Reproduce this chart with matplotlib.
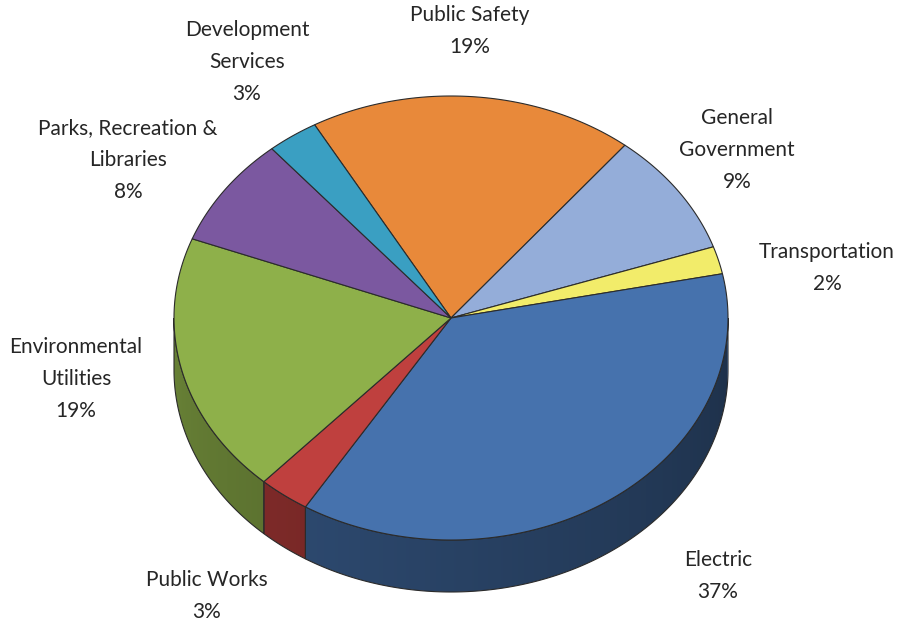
import numpy as np
import matplotlib
matplotlib.use("Agg")
import matplotlib.pyplot as plt
from matplotlib.patches import Polygon
from matplotlib.colors import to_rgb

categories = ["Public Safety", "General\nGovernment", "Transportation", "Electric",
              "Public Works", "Environmental\nUtilities", "Parks, Recreation &\nLibraries",
              "Development\nServices"]
shares = [19, 9, 2, 37, 3, 19, 8, 3]
colors = ["#E8893A", "#94ADD9", "#F2EC6A", "#4672AD", "#BF403E", "#8EB04A", "#7B58A0", "#3A9FC2"]

# label anchor (pixel) for each category, centre of the text block
label_pos = [(470, 31), (737, 150), (827, 268), (718, 576), (207, 596), (76, 379), (128, 160), (247, 62)]

W, H = 900, 623
fig = plt.figure(figsize=(9, 6.23), dpi=100)
ax = fig.add_axes([0, 0, 1, 1])
ax.set_xlim(0, W)
ax.set_ylim(H, 0)
ax.axis("off")

cx, cy, rx, ry, depth = 451, 318, 277, 222, 52
start = 119.5
edge = "#2b2b2b"


def pt(t_deg, dy=0.0):
    t = np.radians(t_deg)
    return cx + rx * np.cos(t), cy - ry * np.sin(t) + dy


def shade(t_deg):
    # lighter on the left of the front wall, darker toward the right
    a = (np.asarray(t_deg) % 360 - 180) / 180.0
    return 0.74 - 0.32 * a


total = float(sum(shares))
bounds = []
a = start
for s in shares:
    b = a - s / total * 360.0
    bounds.append((b, a))
    a = b

# horizontal shading profile for the front wall
xs = np.linspace(cx - rx, cx + rx, 600)
wall_t = 360 - np.degrees(np.arccos(np.clip((xs - cx) / rx, -1, 1)))
wall_f = shade(wall_t)

# side walls (front half only: angles between 180 and 360)
for (lo, hi), col in zip(bounds, colors):
    base = np.array(to_rgb(col))
    for off in (0, 360, -360):
        l, h = lo + off, hi + off
        l2, h2 = max(l, 180), min(h, 360)
        if h2 <= l2:
            continue
        ts = np.linspace(l2, h2, max(3, int((h2 - l2) * 3)))
        top = [pt(t) for t in ts]
        bot = [pt(t, depth) for t in ts[::-1]]
        poly = Polygon(top + bot, closed=True, facecolor="none", edgecolor=edge, lw=0.8, zorder=2)
        ax.add_patch(poly)
        img = np.clip(base[None, None, :] * wall_f[None, :, None], 0, 1)
        img = np.repeat(img, 2, axis=0)
        im = ax.imshow(img, extent=(cx - rx, cx + rx, cy + ry + depth + 5, cy - 5),
                       aspect="auto", interpolation="bilinear", zorder=1)
        im.set_clip_path(poly)

# top faces
for (lo, hi), col in zip(bounds, colors):
    ts = np.linspace(lo, hi, max(3, int((hi - lo) * 2)))
    p = [(cx, cy)] + [pt(t) for t in ts]
    ax.add_patch(Polygon(p, closed=True, facecolor=col, edgecolor=edge, lw=0.8, zorder=3))

ax.set_xlim(0, W)
ax.set_ylim(H, 0)

# labels
for name, s, (x, y) in zip(categories, shares, label_pos):
    ax.text(x, y, f"{name}\n{s}%", ha="center", va="center", fontsize=15,
            family="Lato", color="#262626", linespacing=1.72, zorder=5)

fig.savefig("out.png", dpi=100, facecolor="white")
